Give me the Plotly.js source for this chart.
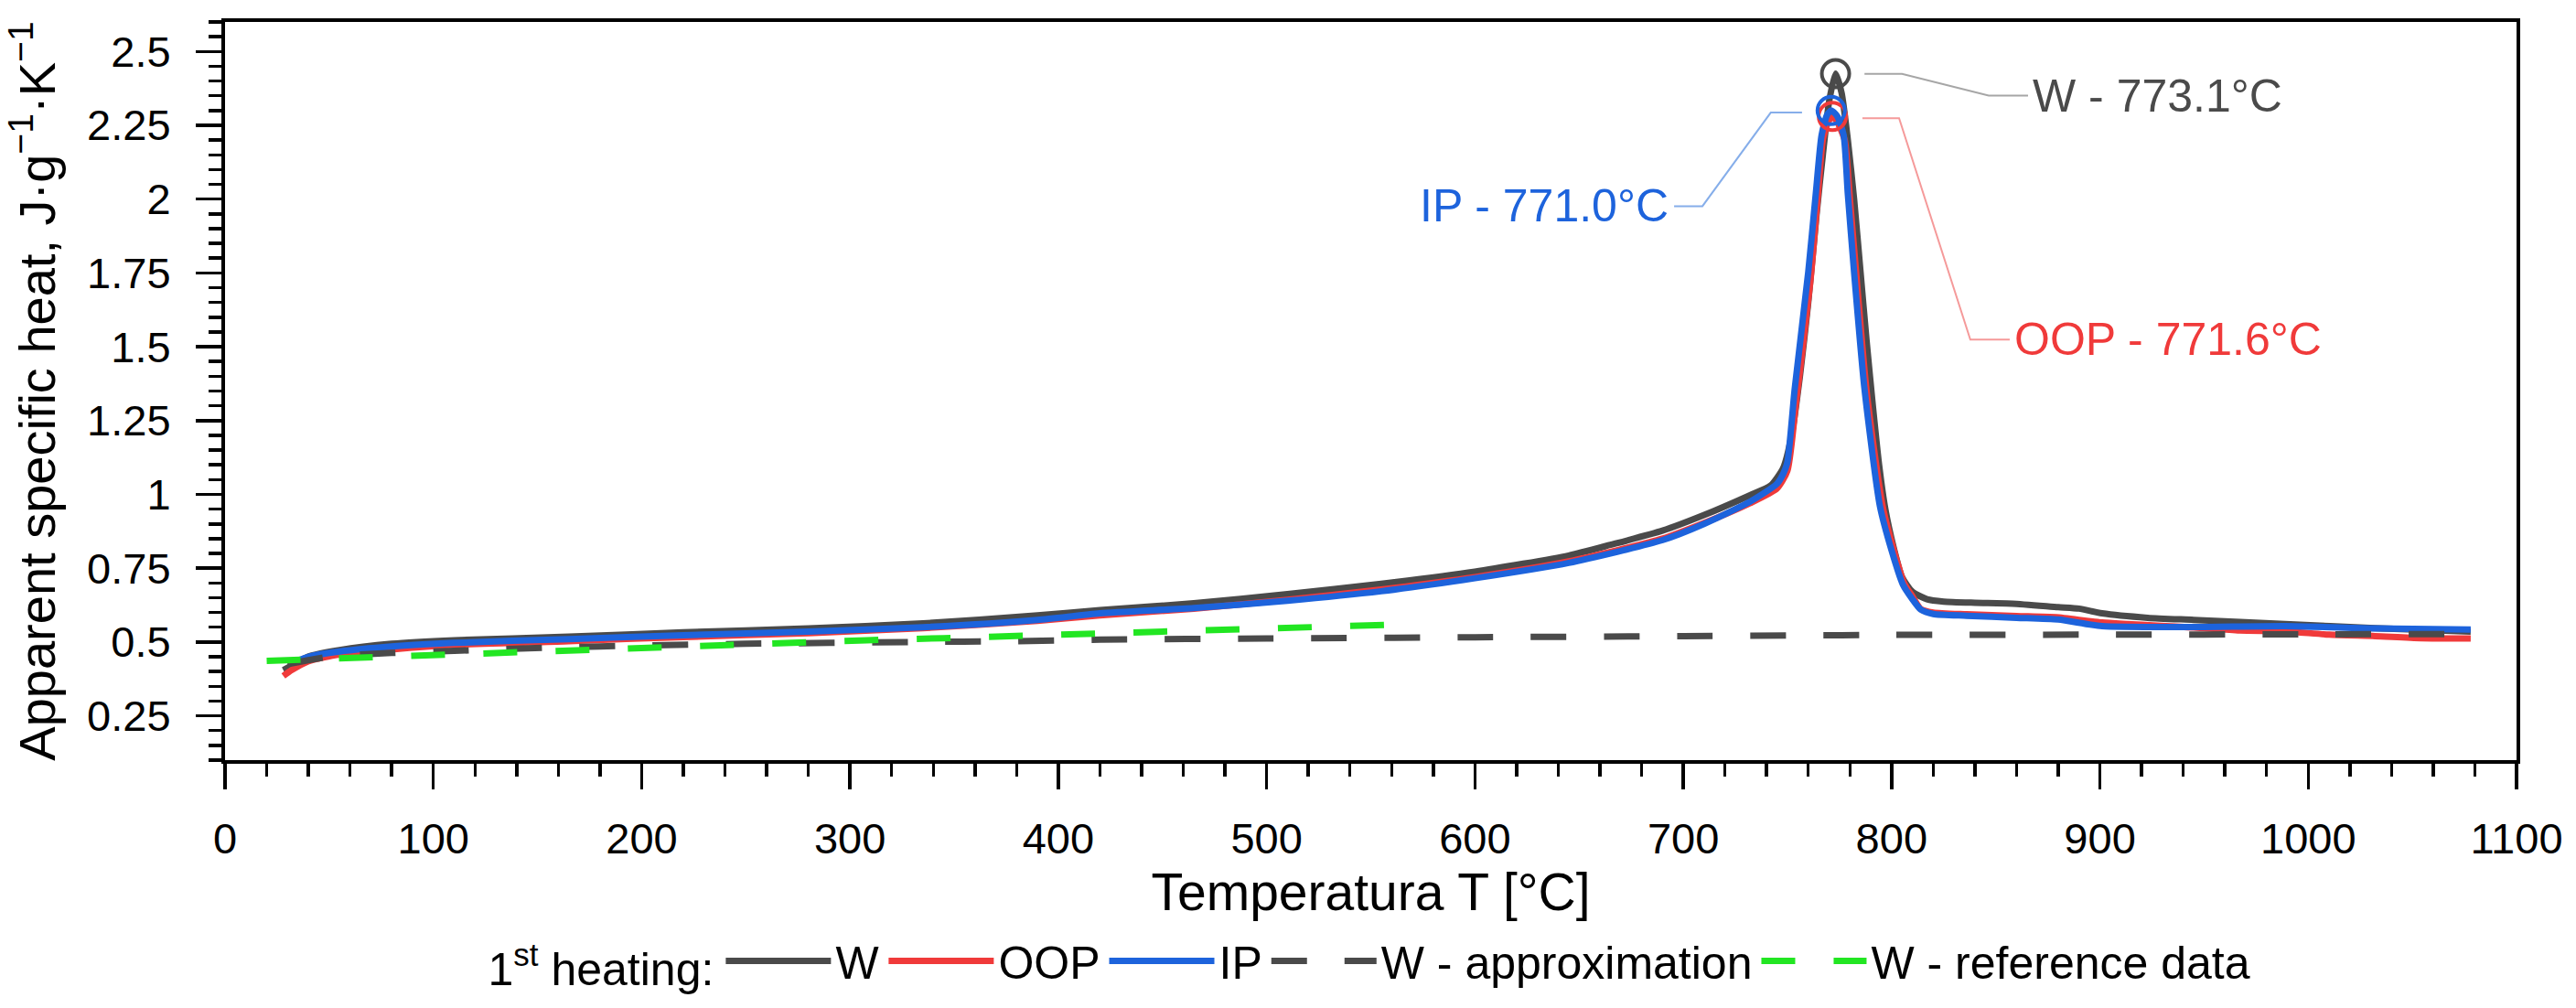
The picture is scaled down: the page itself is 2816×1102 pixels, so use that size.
<!DOCTYPE html>
<html>
<head>
<meta charset="utf-8">
<script src="https://cdn.plot.ly/plotly-3.0.1.min.js"></script>
<style>
  html, body { margin: 0; padding: 0; background: #fff; }
  #chart { width: 2816px; height: 1102px; }
</style>
</head>
<body>
<div id="chart"></div>
<script>
// --- data (temperature in °C, cp in J/g/K) ---

const tW = [28, 32, 40, 55, 80, 110, 165, 220, 280, 335, 390, 420, 465, 510, 555, 600, 645, 665, 690, 710, 732, 742,
    748, 752, 756, 760, 764, 767, 770, 773.1, 776, 779, 782, 785, 788, 791, 794, 797, 801, 805, 810, 817, 825, 840,
    858, 880, 890, 901, 923, 945, 989, 1032, 1078];
const cpW = [0.405, 0.42, 0.451, 0.473, 0.494, 0.506, 0.518, 0.533, 0.546, 0.563, 0.59, 0.608, 0.631, 0.662, 0.697,
    0.738, 0.793, 0.829, 0.877, 0.93, 0.997, 1.03, 1.09, 1.2, 1.4, 1.65, 1.95, 2.15, 2.33, 2.425, 2.36, 2.2, 2.0,
    1.76, 1.52, 1.3, 1.1, 0.95, 0.82, 0.72, 0.67, 0.645, 0.637, 0.633, 0.63, 0.618, 0.613, 0.597, 0.582, 0.575,
    0.561, 0.547, 0.535];

const tOOP = [28, 32, 40, 55, 80, 110, 165, 220, 280, 335, 390, 420, 465, 510, 555, 600, 645, 690, 710, 732, 745,
    750, 754, 761, 764.5, 767, 769.5, 771.6, 774, 777.5, 780, 783, 788, 796, 806, 810, 814, 820, 836, 860, 879, 901,
    945, 967, 989, 1010, 1032, 1054, 1078];
const cpOOP = [0.385, 0.405, 0.435, 0.458, 0.475, 0.49, 0.503, 0.517, 0.53, 0.547, 0.572, 0.59, 0.613, 0.643, 0.678,
    0.72, 0.773, 0.85, 0.903, 0.97, 1.02, 1.08, 1.3, 1.72, 2.0, 2.2, 2.26, 2.28, 2.26, 2.2, 2.0, 1.75, 1.35, 0.95,
    0.7, 0.655, 0.612, 0.6, 0.594, 0.588, 0.584, 0.566, 0.549, 0.539, 0.536, 0.525, 0.52, 0.513, 0.512];

const tIP = [34, 40, 55, 80, 110, 165, 220, 280, 335, 390, 420, 465, 510, 555, 600, 645, 690, 710, 732, 745, 748,
    750, 753.5, 760, 763.6, 766.4, 769, 771.0, 774, 777, 779, 782, 787, 794.4, 800, 805.4, 810, 814, 820, 836, 860,
    880, 901, 945, 989, 1032, 1078];
const cpIP = [0.435, 0.45, 0.468, 0.485, 0.497, 0.51, 0.523, 0.535, 0.55, 0.575, 0.597, 0.615, 0.64, 0.672, 0.716,
    0.768, 0.845, 0.9, 0.975, 1.036, 1.07, 1.11, 1.357, 1.753, 2.017, 2.216, 2.285, 2.3, 2.28, 2.216, 2.017, 1.753,
    1.357, 0.96, 0.81, 0.695, 0.645, 0.61, 0.595, 0.589, 0.582, 0.576, 0.554, 0.551, 0.554, 0.546, 0.542];

const tApprox = [30, 50, 80, 110, 160, 200, 250, 330, 380, 420, 500, 600, 700, 750, 800, 900, 1000, 1078];
const cpApprox = [0.425, 0.45, 0.463, 0.47, 0.482, 0.488, 0.494, 0.5, 0.503, 0.508, 0.512, 0.516, 0.52, 0.522,
    0.524, 0.525, 0.526, 0.527];

const tRef = [20, 40, 65, 98, 132, 168, 203, 238, 275, 308, 345, 380, 415, 457, 497, 535, 572];
const cpRef = [0.436, 0.441, 0.448, 0.457, 0.464, 0.475, 0.482, 0.49, 0.497, 0.506, 0.513, 0.52, 0.53, 0.54,
    0.543, 0.552, 0.561];

// peak markers: W, OOP, IP
const peakNames = ['W', 'OOP', 'IP'];
const peakT = [773.1, 771.6, 771.0];
const peakCp = [2.425, 2.28, 2.30];

const yTickVals = [0.25, 0.5, 0.75, 1, 1.25, 1.5, 1.75, 2, 2.25, 2.5];
const yTickText = ['0.25', '0.5', '0.75', '1', '1.25', '1.5', '1.75', '2', '2.25', '2.5'];

// --- styles ---
const FONT = '"Liberation Sans", Arial, sans-serif';
const C_W = '#4a4a4a', C_OOP = '#f03a3a', C_IP = '#1d63dc', C_REF = '#22e622';
const C_LEAD = ['#a6a6a6', '#f59a9a', '#86aeea'];
const peakColors = [C_W, C_OOP, C_IP];
const LW = 7;

const data = [
    { x: tW, y: cpW, name: 'W', mode: 'lines', line: { color: C_W, width: LW, shape: 'spline', smoothing: 0.6 } },
    { x: tOOP, y: cpOOP, name: 'OOP', mode: 'lines', line: { color: C_OOP, width: LW, shape: 'spline', smoothing: 0.6 } },
    { x: tIP, y: cpIP, name: 'IP', mode: 'lines', line: { color: C_IP, width: LW, shape: 'spline', smoothing: 0.6 } },
    { x: tApprox, y: cpApprox, name: 'W - approximation', mode: 'lines',
      line: { color: C_W, width: LW, dash: '39px,41px', shape: 'spline', smoothing: 0.6 } },
    { x: tRef, y: cpRef, name: 'W - reference data', mode: 'lines',
      line: { color: C_REF, width: LW, dash: '37px,42px' } }
];

// open circles around the peaks
peakT.forEach((t, i) => {
    data.push({
        x: [t], y: [peakCp[i]], mode: 'markers', showlegend: false, hoverinfo: 'skip',
        marker: { symbol: 'circle-open', size: 30, color: peakColors[i], line: { width: 4, color: peakColors[i] } }
    });
});

// callout leader lines (data coords) and label placement
const leaders = [
    { path: [[787, 2.424], [805, 2.424], [846.6, 2.351], [865.5, 2.351]], tx: 867, ty: 2.35, anchor: 'left' },
    { path: [[786, 2.274], [803.6, 2.274], [837.8, 1.524], [856.7, 1.524]], tx: 858, ty: 1.524, anchor: 'left' },
    { path: [[757, 2.293], [742, 2.293], [709.2, 1.976], [695.6, 1.976]], tx: 694, ty: 1.976, anchor: 'right' }
];

const shapes = leaders.map((l, i) => ({
    type: 'path', xref: 'x', yref: 'y',
    path: l.path.map((p, j) => (j ? 'L' : 'M') + p[0] + ',' + p[1]).join(' '),
    line: { color: C_LEAD[i], width: 2 }
}));

const annotations = leaders.map((l, i) => ({
    x: l.tx, y: l.ty, xref: 'x', yref: 'y', showarrow: false,
    xanchor: l.anchor, yanchor: 'middle',
    text: peakNames[i] + ' - ' + peakT[i].toFixed(1) + '°C',
    font: { family: FONT, size: 50, color: peakColors[i] }
}));

const axisCommon = {
    showline: true, linewidth: 4, linecolor: '#000', mirror: true,
    showgrid: false, zeroline: false,
    ticks: 'outside', ticklen: 28, tickwidth: 3.5, tickcolor: '#000',
    tickfont: { family: FONT, size: 47, color: '#000' }
};

const layout = {
    width: 2816, height: 1102,
    margin: { l: 246, r: 65, t: 24, b: 261 },
    paper_bgcolor: '#fff', plot_bgcolor: '#fff',
    font: { family: FONT, color: '#000' },
    xaxis: Object.assign({}, axisCommon, {
        range: [0, 1100], tickmode: 'linear', tick0: 0, dtick: 100,
        minor: { tickmode: 'linear', tick0: 0, dtick: 20, ticks: 'outside', ticklen: 14, tickwidth: 3.5, tickcolor: '#000' },
        ticklabelstandoff: 14,
        title: { text: 'Temperatura T [°C]', font: { family: FONT, size: 57, color: '#000' }, standoff: 4 }
    }),
    yaxis: Object.assign({}, axisCommon, {
        range: [0.1, 2.6], tickmode: 'array', tickvals: yTickVals, ticktext: yTickText,
        minor: { tickmode: 'linear', tick0: 0, dtick: 0.05, ticks: 'outside', ticklen: 14, tickwidth: 3.5, tickcolor: '#000' },
        ticklabelstandoff: 18,
        title: { text: 'Apparent specific heat, J·g<sup>−1</sup>·K<sup>−1</sup>', font: { family: FONT, size: 56, color: '#000' }, standoff: 18 }
    }),
    showlegend: true,
    legend: {
        orientation: 'h', x: 0.5, xanchor: 'center', y: -0.272, yanchor: 'middle',
        xref: 'paper', yref: 'paper',
        font: { family: FONT, size: 50, color: '#000' },
        title: { text: '1<sup>st</sup> heating:', side: 'left', font: { family: FONT, size: 50, color: '#000' } },
        itemwidth: 115, tracegroupgap: 0, bgcolor: 'rgba(0,0,0,0)'
    },
    shapes: shapes,
    annotations: annotations,
    hovermode: false
};

Plotly.newPlot('chart', data, layout, { staticPlot: true, displayModeBar: false });
</script>
</body>
</html>
